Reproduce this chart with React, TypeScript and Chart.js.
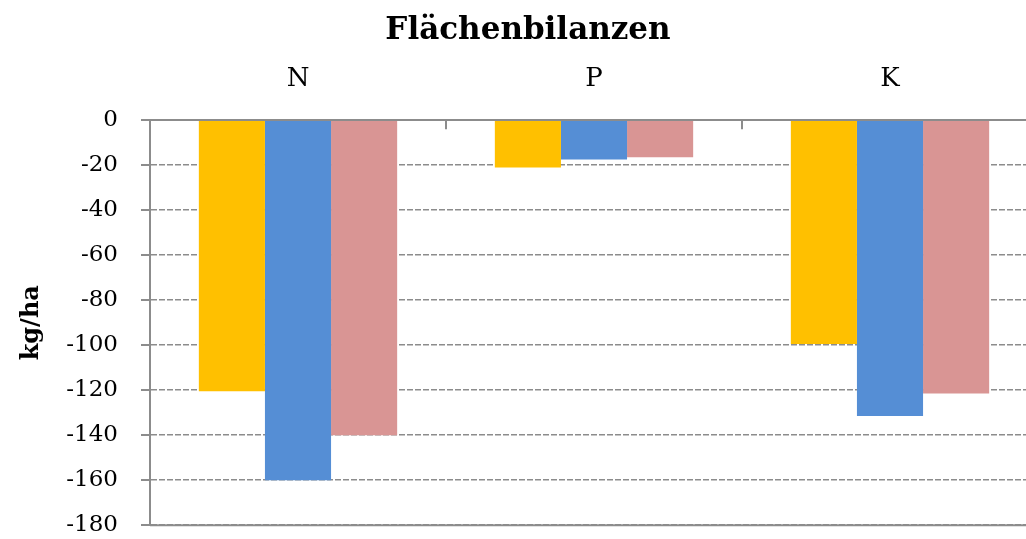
import React, { useEffect, useRef } from "react";
import { Chart, registerables } from "chart.js";

Chart.register(...registerables);

const categories = ["N", "P", "K"];
const series1 = [-120.5, -21, -99.5];
const series2 = [-160, -17.5, -131.5];
const series3 = [-140, -16.5, -121.5];
const seriesNames = ["Reihe 1", "Reihe 2", "Reihe 3"];
const seriesColors = ["#FFC000", "#558ED5", "#D99594"];
const yMin = -180;
const yMax = 0;
const yStep = 20;

const GRAY = "#8c8c8c";

const axisExtras = {
  id: "axisExtras",
  afterDraw(chart: any) {
    const { ctx, chartArea, scales } = chart;
    const x = scales.x;
    const y = scales.y;
    ctx.save();
    ctx.strokeStyle = GRAY;
    ctx.lineWidth = 2;
    ctx.setLineDash([]);
    // solid bottom line
    ctx.beginPath();
    ctx.moveTo(chartArea.left, chartArea.bottom);
    ctx.lineTo(chartArea.right, chartArea.bottom);
    ctx.stroke();
    // outer tick marks on the value axis
    y.ticks.forEach((t: any) => {
      const py = Math.round(y.getPixelForValue(t.value));
      ctx.beginPath();
      ctx.moveTo(chartArea.left - 9, py);
      ctx.lineTo(chartArea.left, py);
      ctx.stroke();
    });
    // inner tick marks between categories on top axis
    for (let i = 1; i < categories.length; i++) {
      const px = Math.round((x.getPixelForTick(i - 1) + x.getPixelForTick(i)) / 2);
      ctx.beginPath();
      ctx.moveTo(px, chartArea.top);
      ctx.lineTo(px, chartArea.top + 9);
      ctx.stroke();
    }
    ctx.restore();
  },
};

export default function App() {
  const ref = useRef<HTMLCanvasElement>(null);
  useEffect(() => {
    if (!ref.current) return;
    const data = [series1, series2, series3];
    const chart = new Chart(ref.current, {
      type: "bar",
      data: {
        labels: categories,
        datasets: data.map((d, i) => ({
          label: seriesNames[i],
          data: d,
          backgroundColor: seriesColors[i],
          borderWidth: 0,
          categoryPercentage: 0.67,
          barPercentage: 1.0,
        })),
      },
      options: {
        animation: false,
        responsive: true,
        maintainAspectRatio: false,
        layout: { padding: 0 },
        plugins: {
          legend: { display: false },
          tooltip: { enabled: false },
          title: {
            display: true,
            text: "Flächenbilanzen",
            color: "#000",
            font: { family: "DejaVu Serif", size: 31, weight: "bold" },
            padding: { top: 12, bottom: 14 },
          },
        },
        scales: {
          x: {
            position: "top",
            afterFit: (s: any) => {
              s.height = 57;
            },
            grid: { display: false, drawTicks: false },
            border: { display: true, color: GRAY, width: 2 },
            ticks: {
              color: "#000",
              font: { family: "DejaVu Serif", size: 26 },
              padding: 25,
            },
          },
          y: {
            min: yMin,
            max: yMax,
            afterFit: (s: any) => {
              s.width = 150;
            },
            ticks: {
              stepSize: yStep,
              color: "#000",
              font: { family: "DejaVu Serif", size: 23 },
              padding: 0,
            },
            grid: {
              color: GRAY,
              lineWidth: 1.5,
              drawTicks: true,
              tickLength: 32,
              tickColor: "rgba(0,0,0,0)",
            },
            border: { display: true, color: GRAY, width: 2, dash: [6, 2] },
            title: {
              display: true,
              text: "kg/ha",
              color: "#000",
              font: { family: "DejaVu Serif", size: 24, weight: "bold" },
              padding: { top: 17, bottom: 0 },
            },
          },
          spacer: {
            type: "linear",
            position: "right",
            display: true,
            grid: { display: false, drawTicks: false },
            border: { display: false },
            ticks: { display: false },
            afterFit: (s: any) => {
              s.width = 18;
            },
          },
        },
      },
      plugins: [axisExtras],
    });
    return () => chart.destroy();
  }, []);
  return (
    <div
      style={{
        position: "fixed",
        left: 0,
        top: 0,
        width: 1026,
        height: 539,
        overflow: "hidden",
        background: "#fff",
      }}
    >
      <div style={{ width: 1056, height: 539, position: "relative" }}>
        <canvas ref={ref} />
      </div>
    </div>
  );
}
